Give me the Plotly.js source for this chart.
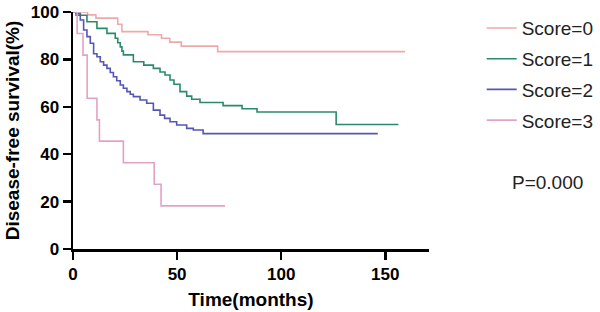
<!DOCTYPE html>
<html>
<head>
<meta charset="utf-8">
<script src="https://cdn.plot.ly/plotly-3.0.1.min.js"></script>
<style>html,body{margin:0;padding:0;background:#fff;}#chart{width:600px;height:312px;}</style>
</head>
<body>
<div id="chart"></div>
<script>
// Kaplan-Meier step data
const seriesNames = ["Score=0", "Score=1", "Score=2", "Score=3"];

const score0Time = [0, 7, 11, 21.5, 23.5, 36, 42.5, 46.5, 52, 69.5, 159.5];
const score0Surv = [100, 98.8, 97.4, 94.8, 91.7, 90.4, 88.9, 87.3, 85.6, 83.3, 83.3];

const score1Time = [0, 1.5, 3.5, 6.7, 11.5, 16.3, 20.3, 21.5, 22.7, 23.5, 24.2, 29, 34, 38.6, 41.8, 44.2, 46.6, 48.5, 51.4, 54.6, 57, 61, 72.1, 81.2, 88.4, 126.4, 156.3];
const score1Surv = [100, 99.3, 98.6, 95.9, 93.1, 91.0, 88.9, 87.0, 85.3, 83.5, 81.9, 79.0, 77.6, 76.2, 74.7, 73.4, 71.3, 69.5, 66.4, 64.5, 63.2, 61.8, 60.5, 59.2, 57.8, 52.5, 52.5];

const score2Time = [0, 1.5, 3.5, 5.1, 6.7, 8.3, 9.9, 11.5, 13.1, 14.7, 16.3, 17.9, 19.4, 21, 22.7, 24.2, 25.9, 27.5, 29, 32.2, 35.4, 38.6, 41.8, 44, 46.6, 49.8, 54.6, 57.8, 62.5, 146.4];
const score2Surv = [100, 98.6, 96.6, 92.4, 89.6, 86.8, 82.4, 81.1, 79.0, 77.6, 76.2, 74.5, 72.7, 71.0, 69.2, 67.8, 66.4, 65.3, 64.3, 62.9, 61.5, 58.6, 56.5, 55.1, 53.7, 52.3, 50.9, 50.2, 48.7, 48.7];

const score3Time = [0, 2, 4.8, 6.8, 11.5, 12.7, 24.2, 39, 42.3, 73];
const score3Surv = [100, 90.9, 81.8, 63.6, 54.5, 45.5, 36.4, 27.3, 18.2, 18.2];

const xTickVals = [0, 50, 100, 150];
const yTickVals = [0, 20, 40, 60, 80, 100];
const pValueText = "P=0.000";

const colors = ["#efa9a9", "#2b8a68", "#5656b4", "#e2a2c8"];
const times = [score0Time, score1Time, score2Time, score3Time];
const survs = [score0Surv, score1Surv, score2Surv, score3Surv];

const FONT = "Liberation Sans, Arial, Helvetica, sans-serif";

const traces = seriesNames.map((name, i) => ({
  type: "scatter",
  mode: "lines",
  name: name,
  x: times[i],
  y: survs[i],
  line: {shape: "hv", color: colors[i], width: 1.6},
  cliponaxis: false,
  legendgroup: "g" + i
}));

const layout = {
  width: 600,
  height: 312,
  margin: {l: 72.7, r: 171, t: 12, b: 63, autoexpand: false},
  paper_bgcolor: "#fff",
  plot_bgcolor: "#fff",
  font: {family: FONT, color: "#000"},
  showlegend: true,
  legend: {
    x: 1.148, y: 1.012, xanchor: "left", yanchor: "top",
    font: {family: FONT, size: 19, color: "#222"},
    traceorder: "grouped", tracegroupgap: 3,
    itemwidth: 30, bgcolor: "rgba(0,0,0,0)"
  },
  xaxis: {
    range: [0, 171],
    tickvals: xTickVals,
    ticktext: xTickVals.map(String),
    showgrid: false, zeroline: false,
    showline: true, linecolor: "#000", linewidth: 2.5,
    ticks: "outside", ticklen: 8, tickwidth: 2.5, tickcolor: "#000",
    tickfont: {family: FONT, size: 17, weight: "bold", color: "#000"},
    title: {text: "Time(months)", font: {family: FONT, size: 19, weight: "bold", color: "#000"}, standoff: 10},
    automargin: false
  },
  yaxis: {
    range: [0, 100],
    tickvals: yTickVals,
    ticktext: yTickVals.map(String),
    showgrid: false, zeroline: false,
    showline: true, linecolor: "#000", linewidth: 2.5,
    ticks: "outside", ticklen: 8, tickwidth: 2.5, tickcolor: "#000",
    tickfont: {family: FONT, size: 17, weight: "bold", color: "#000"},
    title: {text: "Disease-free survival(%)", font: {family: FONT, size: 19, weight: "bold", color: "#000"}, standoff: 6},
    automargin: false
  },
  annotations: [{
    text: pValueText, xref: "paper", yref: "paper",
    x: 1.228, y: 0.28, xanchor: "left", yanchor: "middle",
    showarrow: false, font: {family: FONT, size: 19, color: "#222"}
  }]
};

Plotly.newPlot("chart", traces, layout, {staticPlot: true, displayModeBar: false});
</script>
</body>
</html>
